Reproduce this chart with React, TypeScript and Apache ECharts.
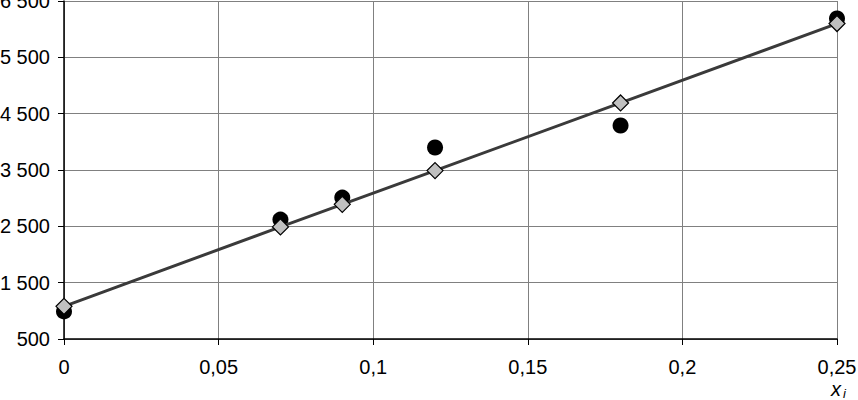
import React, { useEffect, useRef } from "react";
import * as echarts from "echarts";

const xValues = [0, 0.07, 0.09, 0.12, 0.18, 0.25];
const observed = [990, 2620, 3010, 3900, 4290, 6190];
const fitted = [1080, 2490, 2890, 3490, 4690, 6100];

const fmtY = (v: number) => String(v).replace(/\B(?=(\d{3})+(?!\d))/g, " ");
const fmtX = (v: number) => String(Math.round(v * 100) / 100).replace(".", ",");

export default function App() {
  const ref = useRef<HTMLDivElement>(null);
  useEffect(() => {
    document.body.style.margin = "0";
    const chart = echarts.init(ref.current!, undefined, { renderer: "svg" });
    const font = "'Liberation Sans', Arial, sans-serif";
    chart.setOption({
      animation: false,
      backgroundColor: "#fff",
      textStyle: { fontFamily: font },
      grid: { left: 64, right: 21, top: 1, bottom: 61, containLabel: false, outerBoundsMode: "none" },
      xAxis: {
        type: "value",
        min: 0,
        max: 0.25,
        interval: 0.05,
        axisLine: { show: true, onZero: false, lineStyle: { color: "#000", width: 1.5 } },
        axisTick: { show: true, length: 6, lineStyle: { color: "#000" } },
        axisLabel: { color: "#000", fontSize: 20, fontFamily: font, margin: 18, formatter: fmtX },
        splitLine: { show: true, lineStyle: { color: "#808080", width: 1 } },
      },
      yAxis: {
        type: "value",
        min: 500,
        max: 6500,
        interval: 1000,
        axisLine: { show: true, onZero: false, lineStyle: { color: "#000", width: 1.5 } },
        axisTick: { show: true, length: 6, lineStyle: { color: "#000" } },
        axisLabel: { color: "#000", fontSize: 20, fontFamily: font, margin: 14, formatter: fmtY },
        splitLine: { show: true, lineStyle: { color: "#808080", width: 1 } },
      },
      series: [
        {
          type: "scatter",
          data: xValues.map((x, i) => [x, observed[i]]),
          symbol: "circle",
          symbolSize: 16,
          itemStyle: { color: "#000", opacity: 1 },
          z: 2,
        },
        {
          type: "line",
          data: xValues.map((x, i) => [x, fitted[i]]),
          symbol: "diamond",
          symbolSize: 16,
          showSymbol: true,
          lineStyle: { color: "#3a3a3a", width: 3 },
          itemStyle: { color: "#c0c0c0", borderColor: "#000", borderWidth: 1.2, opacity: 1 },
          z: 3,
        },
      ],
      graphic: [
        {
          type: "text",
          left: 831,
          top: 379,
          style: {
            text: "{a|x}{b|i}",
            rich: {
              a: { fontSize: 20, fontStyle: "italic", fontFamily: font, fill: "#000" },
              b: { fontSize: 13, fontStyle: "italic", fontFamily: font, fill: "#000", verticalAlign: "bottom", padding: [8, 0, 0, 2] },
            },
          },
        },
      ],
    });
    return () => chart.dispose();
  }, []);
  return <div ref={ref} style={{ width: 858, height: 400 }} />;
}
